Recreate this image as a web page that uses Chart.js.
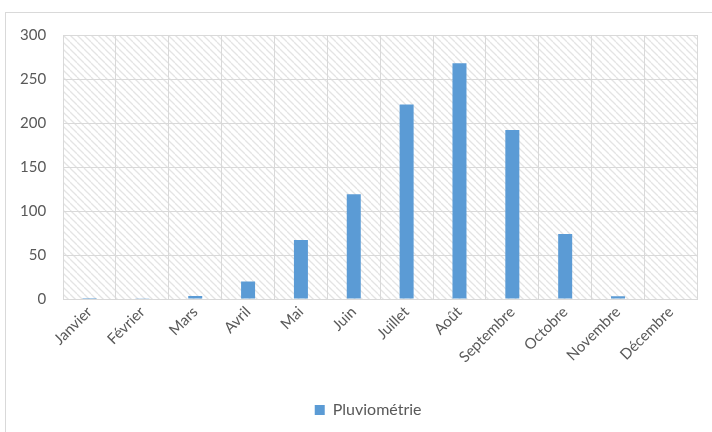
<!DOCTYPE html>
<html>
<head>
<meta charset="utf-8">
<script src="https://cdn.jsdelivr.net/npm/chart.js@4/dist/chart.umd.min.js"></script>
<style>
  html, body { margin: 0; padding: 0; background: #ffffff; }
  #wrap { width: 712px; height: 432px; position: relative; }
</style>
</head>
<body>
<div id="wrap"><canvas id="c"></canvas></div>
<script>
// Monthly rainfall (mm)
const mois = ['Janvier', 'Février', 'Mars', 'Avril', 'Mai', 'Juin', 'Juillet', 'Août', 'Septembre', 'Octobre', 'Novembre', 'Décembre'];
const pluviometrie = [1, 0.8, 3.5, 20, 67, 119, 221, 268, 192, 74, 3, 0];
const yTicks = [0, 50, 100, 150, 200, 250, 300];

const FONT = 'Lato, "Open Sans", sans-serif';
const TEXT = '#595959';
const GRID = '#d9d9d9';

// Diagonal hatch tile for the plot background
function makeHatch() {
  const s = 7;
  const t = document.createElement('canvas');
  t.width = s; t.height = s;
  const g = t.getContext('2d');
  g.fillStyle = '#ffffff';
  g.fillRect(0, 0, s, s);
  g.strokeStyle = '#e4e4e4';
  g.lineWidth = 1.3;
  for (const k of [-s, 0, s]) {
    g.beginPath();
    g.moveTo(k, 0);
    g.lineTo(k + s, s);
    g.stroke();
  }
  return t;
}

const backdrop = {
  id: 'backdrop',
  beforeDraw(chart) {
    const { ctx, chartArea: a } = chart;
    ctx.save();
    ctx.fillStyle = '#ffffff';
    ctx.fillRect(0, 0, chart.width, chart.height);
    ctx.strokeStyle = GRID;
    ctx.lineWidth = 1;
    ctx.strokeRect(5.5, 12.5, chart.width + 10, chart.height + 10);
    ctx.fillStyle = ctx.createPattern(makeHatch(), 'repeat');
    ctx.fillRect(a.left, a.top, a.right - a.left, a.bottom - a.top);
    ctx.restore();
  }
};

// Nudge the legend so it sits under the middle of the plot
const legendShift = {
  id: 'legendShift',
  afterLayout(chart) {
    const L = chart.legend;
    if (!L) return;
    L.left += 19.5;
    L.right += 19.5;
  }
};

new Chart(document.getElementById('c'), {
  type: 'bar',
  data: {
    labels: mois,
    datasets: [{
      label: 'Pluviométrie',
      data: pluviometrie,
      backgroundColor: '#5b9bd5',
      borderWidth: 0,
      barPercentage: 0.265,
      categoryPercentage: 1.0
    }]
  },
  options: {
    responsive: true,
    maintainAspectRatio: false,
    animation: false,
    devicePixelRatio: 1,
    layout: { padding: { left: 0, top: 35, right: 14.7, bottom: 4 } },
    plugins: {
      legend: {
        position: 'bottom',
        labels: {
          boxWidth: 10,
          boxHeight: 10,
          padding: 10,
          color: TEXT,
          font: { family: FONT, size: 16 }
        }
      },
      tooltip: { enabled: false }
    },
    scales: {
      x: {
        grid: { color: GRID, lineWidth: 1, offset: true, drawTicks: false },
        border: { color: GRID },
        ticks: {
          color: TEXT,
          font: { family: FONT, size: 15 },
          minRotation: 45,
          maxRotation: 45,
          padding: 4
        },
        afterFit(s) { s.height = 93; }
      },
      y: {
        min: 0,
        max: 300,
        grid: { color: GRID, lineWidth: 1, drawTicks: false },
        border: { color: GRID },
        afterBuildTicks(s) { s.ticks = yTicks.map(v => ({ value: v })); },
        ticks: {
          color: TEXT,
          font: { family: FONT, size: 15 },
          padding: 17
        },
        afterFit(s) { s.width = 63.1; }
      }
    }
  },
  plugins: [backdrop, legendShift]
});
</script>
</body>
</html>
